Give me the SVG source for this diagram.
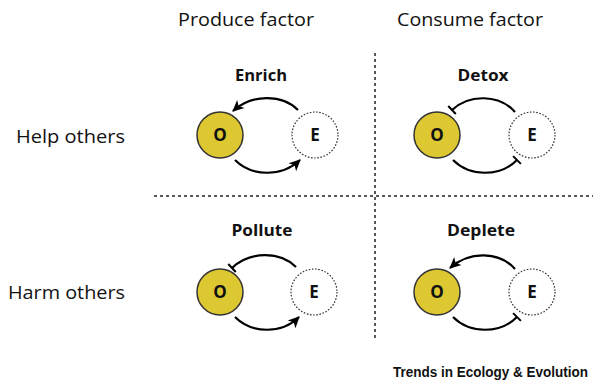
<svg xmlns="http://www.w3.org/2000/svg" width="595" height="385" viewBox="0 0 595 385">
<style>
.hdr{font-family:"Open Sans","Liberation Sans",sans-serif;font-size:18.5px;fill:#111}
.lbl{font-family:"Open Sans","Liberation Sans",sans-serif;font-size:16px;font-weight:bold;fill:#111;text-anchor:middle}
.o{fill:#DEC832;stroke:#333;stroke-width:1.5}
.e{fill:#fff;stroke:#333;stroke-width:1.2;stroke-dasharray:1.6 1.6}
.ne{font-family:"Open Sans","Liberation Sans",sans-serif;font-size:17px;font-weight:bold;fill:#111;text-anchor:middle}
.arc{fill:none;stroke:#000;stroke-width:2.2}
.div{stroke:#222;stroke-width:1.5;stroke-dasharray:3 3;fill:none}
</style>
<defs>
<marker id="arr" markerUnits="userSpaceOnUse" markerWidth="14" markerHeight="12" viewBox="-12 -6 14 12" refX="0" refY="0" orient="auto" overflow="visible">
<path d="M1,0 L-10.5,-5.5 L-7.5,0 L-10.5,5.5 Z" fill="#000"/>
</marker>
<marker id="bar" markerUnits="userSpaceOnUse" markerWidth="6" markerHeight="14" viewBox="-3 -7 6 14" refX="0" refY="0" orient="auto" overflow="visible">
<line x1="0" y1="-5.5" x2="0" y2="5.5" stroke="#000" stroke-width="2"/>
</marker>
</defs>

<g id="headers">
<text class="hdr" x="178" y="26" textLength="136" lengthAdjust="spacingAndGlyphs">Produce factor</text>
<text class="hdr" x="397" y="26" textLength="146" lengthAdjust="spacingAndGlyphs">Consume factor</text>
<text class="hdr" x="16" y="143" textLength="109" lengthAdjust="spacingAndGlyphs">Help others</text>
<text class="hdr" x="8" y="299" textLength="117" lengthAdjust="spacingAndGlyphs">Harm others</text>
</g>

<g id="dividers">
<line class="div" x1="375" y1="53" x2="375" y2="340"/>
<line class="div" x1="154" y1="196" x2="593" y2="196"/>
</g>

<g id="enrich" transform="translate(220,135)">
<text class="lbl" x="41" y="-54" textLength="52" lengthAdjust="spacingAndGlyphs">Enrich</text>
<circle class="o" cx="0" cy="0" r="23"/>
<text class="ne" x="0" y="6">O</text>
<circle class="e" cx="95" cy="0" r="23"/>
<text class="ne" x="95" y="6">E</text>
</g>

<g id="detox" transform="translate(437,135)">
<text class="lbl" x="46" y="-54" textLength="51" lengthAdjust="spacingAndGlyphs">Detox</text>
<circle class="o" cx="0" cy="0" r="23"/>
<text class="ne" x="0" y="6">O</text>
<circle class="e" cx="95" cy="0" r="23"/>
<text class="ne" x="95" y="6">E</text>
</g>

<g id="pollute" transform="translate(220,292)">
<text class="lbl" x="42" y="-56" textLength="61" lengthAdjust="spacingAndGlyphs">Pollute</text>
<circle class="o" cx="0" cy="0" r="23"/>
<text class="ne" x="0" y="6">O</text>
<circle class="e" cx="94" cy="0" r="23"/>
<text class="ne" x="94" y="6">E</text>
</g>

<g id="deplete" transform="translate(437,292)">
<text class="lbl" x="44" y="-56" textLength="68" lengthAdjust="spacingAndGlyphs">Deplete</text>
<circle class="o" cx="0" cy="0" r="23"/>
<text class="ne" x="0" y="6">O</text>
<circle class="e" cx="95" cy="0" r="23"/>
<text class="ne" x="95" y="6">E</text>
</g>

<g id="connectors">
<path class="arc" d="M298,110 C282,94 252,94 233,111" marker-end="url(#arr)"/>
<path class="arc" d="M235,160 C252,177 282,177 300,160" marker-end="url(#arr)"/>
<path class="arc" d="M515,112 C499,94 469,94 452,110" marker-end="url(#bar)"/>
<path class="arc" d="M453,160 C470,177 500,177 517,160" marker-end="url(#bar)"/>
<path class="arc" d="M296,267 C280,251 250,251 232,268" marker-end="url(#bar)"/>
<path class="arc" d="M235,317 C252,334 282,334 299,317" marker-end="url(#arr)"/>
<path class="arc" d="M515,269 C499,251 469,251 450,268" marker-end="url(#arr)"/>
<path class="arc" d="M453,317 C470,334 500,334 517,317" marker-end="url(#bar)"/>
</g>

<g id="credit">
<text x="393" y="377" font-family="'Liberation Sans',Arial,sans-serif" font-size="14" font-weight="bold" fill="#111" textLength="195" lengthAdjust="spacingAndGlyphs">Trends in Ecology &amp; Evolution</text>
</g>
</svg>
